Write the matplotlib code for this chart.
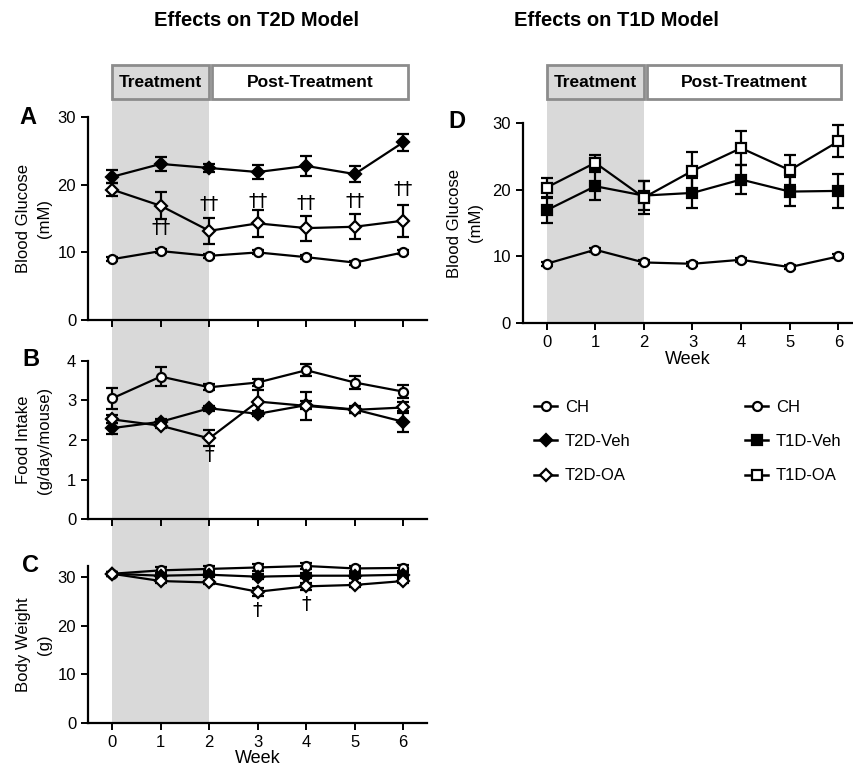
import matplotlib
matplotlib.use("Agg")
import matplotlib.pyplot as plt
import matplotlib.patches as mpatches
from matplotlib.lines import Line2D
from matplotlib.transforms import blended_transform_factory
import numpy as np

plt.rcParams['font.family'] = ['Liberation Sans', 'DejaVu Sans']

# ---------------- data ----------------
weeks = [0, 1, 2, 3, 4, 5, 6]

# A: blood glucose (mM), T2D model
a_ch = [9.0, 10.2, 9.5, 10.0, 9.3, 8.5, 10.0]
a_ch_err = [0.3, 0.3, 0.3, 0.3, 0.3, 0.3, 0.3]
a_veh = [21.2, 23.1, 22.5, 21.9, 22.8, 21.6, 26.3]
a_veh_err = [0.95, 1.0, 0.6, 1.1, 1.5, 1.15, 1.3]
a_oa = [19.3, 16.9, 13.2, 14.3, 13.6, 13.8, 14.7]
a_oa_err = [1.0, 2.0, 1.9, 2.0, 1.85, 1.85, 2.35]

# B: food intake (g/day/mouse)
b_ch = [3.05, 3.6, 3.33, 3.45, 3.76, 3.45, 3.22]
b_ch_err = [0.27, 0.24, 0.08, 0.1, 0.15, 0.17, 0.16]
b_veh = [2.3, 2.46, 2.8, 2.66, 2.88, 2.77, 2.46]
b_veh_err = [0.14, 0.06, 0.06, 0.06, 0.1, 0.08, 0.26]
b_oa = [2.52, 2.36, 2.04, 2.97, 2.86, 2.76, 2.82]
b_oa_err = [0.1, 0.06, 0.2, 0.3, 0.36, 0.08, 0.15]

# C: body weight (g)
c_ch = [30.7, 31.4, 31.7, 32.0, 32.3, 31.8, 31.9]
c_ch_err = [0.4, 0.6, 0.5, 0.7, 0.7, 0.6, 0.7]
c_veh = [30.7, 30.3, 30.5, 30.1, 30.3, 30.3, 30.5]
c_veh_err = [0.4, 0.4, 0.4, 0.5, 0.5, 0.5, 0.5]
c_oa = [30.7, 29.2, 28.9, 27.0, 28.1, 28.4, 29.2]
c_oa_err = [0.4, 0.4, 0.4, 0.8, 0.7, 0.4, 0.4]

# D: blood glucose (mM), T1D model
d_ch = [8.9, 11.0, 9.1, 8.9, 9.5, 8.4, 10.0]
d_ch_err = [0.3, 0.3, 0.3, 0.3, 0.3, 0.3, 0.3]
d_veh = [16.9, 20.5, 19.1, 19.5, 21.5, 19.7, 19.8]
d_veh_err = [1.95, 2.1, 2.2, 2.2, 2.2, 2.2, 2.5]
d_oa = [20.3, 24.0, 18.8, 22.8, 26.2, 22.9, 27.2]
d_oa_err = [1.5, 1.1, 2.5, 2.8, 2.5, 2.2, 2.4]

# significance marks (week, y, text)
a_sig = [(1, 13.6, "††"), (2, 17.1, "††"), (3, 17.6, "††"), (4, 17.2, "††"),
         (5, 17.6, "††"), (6, 19.3, "††")]
b_sig = [(2, 1.6, "†")]
c_sig = [(3, 23.2, "†"), (4, 24.3, "†")]

SHADE = "#d9d9d9"
BOXEDGE = "#8c8c8c"

fig = plt.figure(figsize=(8.54, 7.71), dpi=100)


def add_ax(l, t, r, b, ylim, yticks):
    ax = fig.add_axes([l / 854, 1 - b / 771, (r - l) / 854, (b - t) / 771])
    ax.set_facecolor("none")
    for s in ["top", "right"]:
        ax.spines[s].set_visible(False)
    for s in ["left", "bottom"]:
        ax.spines[s].set_linewidth(1.6)
    ax.set_ylim(*ylim)
    ax.set_yticks(yticks)
    ax.set_xticks(weeks)
    ax.tick_params(width=1.4, length=5, labelsize=12, direction="out")
    return ax


def series(ax, y, err, marker, face, ms):
    ax.errorbar(weeks, y, yerr=err, color="black", marker=marker, ms=ms,
                mfc=face, mec="black", mew=1.6, lw=1.6, elinewidth=1.6,
                capsize=4, capthick=1.6, zorder=3, clip_on=False)


axA = add_ax(88, 117.3, 427, 320, (0, 30), [0, 10, 20, 30])
axB = add_ax(88, 360.7, 427, 519.3, (0, 4), [0, 1, 2, 3, 4])
axC = add_ax(88, 566, 427, 722.7, (0, 32.3), [0, 10, 20, 30])
axD = add_ax(522.7, 122.7, 852, 323.3, (0, 30), [0, 10, 20, 30])
for ax in (axA, axB, axC):
    ax.set_xlim(-0.5, 6.49)
axD.set_xlim(-0.49, 6.28)
axA.tick_params(labelbottom=False)
axB.tick_params(labelbottom=False)

series(axA, a_ch, a_ch_err, "o", "white", 6.5)
series(axA, a_veh, a_veh_err, "D", "black", 6)
series(axA, a_oa, a_oa_err, "D", "white", 6)
series(axB, b_ch, b_ch_err, "o", "white", 6.5)
series(axB, b_veh, b_veh_err, "D", "black", 6)
series(axB, b_oa, b_oa_err, "D", "white", 6)
series(axC, c_ch, c_ch_err, "o", "white", 6.5)
series(axC, c_veh, c_veh_err, "D", "black", 6)
series(axC, c_oa, c_oa_err, "D", "white", 6)
series(axD, d_ch, d_ch_err, "o", "white", 6.5)
series(axD, d_veh, d_veh_err, "s", "black", 6.5)
series(axD, d_oa, d_oa_err, "s", "white", 6.5)

for ax, sig in ((axA, a_sig), (axB, b_sig), (axC, c_sig)):
    for wk, yv, txt in sig:
        ax.text(wk, yv, txt, ha="center", va="center", fontsize=14,
                family=["DejaVu Sans"])

axA.set_ylabel("Blood Glucose\n(mM)", fontsize=12)
axB.set_ylabel("Food Intake\n(g/day/mouse)", fontsize=12)
axC.set_ylabel("Body Weight\n(g)", fontsize=12)
axD.set_ylabel("Blood Glucose\n(mM)", fontsize=12)
axC.set_xlabel("Week", fontsize=13, labelpad=0)
axD.set_xlabel("Week", fontsize=13, labelpad=1)
for ax in (axA, axB, axC):
    ax.yaxis.set_label_coords(-0.105, 0.5)
axD.yaxis.set_label_coords(-0.12, 0.5)
for ax in (axA, axB, axC, axD):
    ax.yaxis.label.set_linespacing(1.5)

# panel letters
for txt, x, y in (("A", 28, 117), ("B", 31, 360), ("C", 31, 566), ("D", 457, 122)):
    fig.text(x / 854, 1 - y / 771, txt, fontsize=17, fontweight="bold",
             ha="center", va="center")

fig.text(257 / 854, 1 - 20 / 771, "Effects on T2D Model", fontsize=14.5,
         fontweight="bold", ha="center", va="center")
fig.text(616 / 854, 1 - 20 / 771, "Effects on T1D Model", fontsize=14.5,
         fontweight="bold", ha="center", va="center")

# treatment shading and phase boxes
box_top, box_bot = 1 - 65 / 771, 1 - 99.3 / 771
for ax, bottom_ax, post_end in ((axA, axC, 6.1), (axD, axD, 6.06)):
    tr = blended_transform_factory(ax.transData, fig.transFigure)
    y0 = bottom_ax.get_position().y0
    fig.add_artist(mpatches.Rectangle((0, y0), 2, box_bot - y0, transform=tr,
                                      facecolor=SHADE, edgecolor="none", zorder=-1))
    fig.add_artist(mpatches.Rectangle((0, box_bot), 2, box_top - box_bot, transform=tr,
                                      facecolor=SHADE, edgecolor=BOXEDGE, lw=2, zorder=1))
    fig.add_artist(mpatches.Rectangle((2.06, box_bot), post_end - 2.06, box_top - box_bot,
                                      transform=tr, facecolor="white", edgecolor=BOXEDGE,
                                      lw=2, zorder=1))
    fig.text(1, (box_top + box_bot) / 2, "Treatment", transform=tr, ha="center",
             va="center", fontsize=12.5, fontweight="bold", zorder=2)
    fig.text((2.06 + post_end) / 2, (box_top + box_bot) / 2, "Post-Treatment",
             transform=tr, ha="center", va="center", fontsize=12.5, fontweight="bold",
             zorder=2)

# legends
kw = dict(color="black", lw=1.8, mec="black", mew=1.6)
h_left = [Line2D([], [], marker="o", mfc="white", ms=6.5, **kw),
          Line2D([], [], marker="D", mfc="black", ms=6.5, **kw),
          Line2D([], [], marker="D", mfc="white", ms=6.5, **kw)]
h_right = [Line2D([], [], marker="o", mfc="white", ms=6.5, **kw),
           Line2D([], [], marker="s", mfc="black", ms=6.5, **kw),
           Line2D([], [], marker="s", mfc="white", ms=6.5, **kw)]
fig.legend(h_left, ["CH", "T2D-Veh", "T2D-OA"], loc="upper left",
           bbox_to_anchor=(519 / 854, 1 - 385 / 771), frameon=False, fontsize=12,
           handlelength=1.4, handletextpad=0.45, labelspacing=1.15)
fig.legend(h_right, ["CH", "T1D-Veh", "T1D-OA"], loc="upper left",
           bbox_to_anchor=(730 / 854, 1 - 385 / 771), frameon=False, fontsize=12,
           handlelength=1.4, handletextpad=0.45, labelspacing=1.15)

fig.savefig("out.png", dpi=100)
